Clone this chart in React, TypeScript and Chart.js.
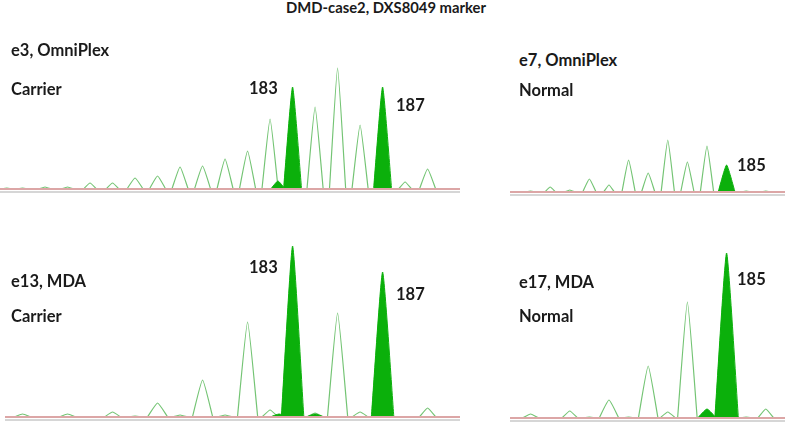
import React, { useEffect, useRef } from "react";
import { Chart, registerables } from "chart.js";

Chart.register(...registerables);

// ---------- DATA ----------
const title = "DMD-case2, DXS8049 marker";

// Panel e3, OmniPlex (Carrier) — fragment size (bp) and peak height
const e3Sizes = [170.3, 171.0, 172.0, 173.0, 174.0, 175.0, 176.0, 177.0, 178.0, 179.0, 180.0, 181.0, 182.0, 184.0, 185.0, 186.0, 188.0, 189.0];
const e3Heights = [1, 1, 2, 2, 6, 6, 11, 13, 22, 23, 30, 38, 70, 82, 121, 64, 7, 20];
const e3AlleleSizes = [182.35, 183.0, 187.0];
const e3AlleleHeights = [8, 102, 102];

// Panel e7, OmniPlex (Normal)
const e7Sizes = [175.0, 176.0, 177.0, 178.0, 179.0, 180.0, 181.0, 182.0, 183.0, 184.0, 186.0, 187.0];
const e7Heights = [1, 5, 2, 13, 7, 32, 19, 52, 30, 46, 1, 1];
const e7AlleleSizes = [185.0];
const e7AlleleHeights = [27];

// Panel e13, MDA (Carrier)
const e13Sizes = [171.0, 173.0, 175.0, 176.0, 177.0, 178.0, 179.0, 180.0, 181.0, 182.0, 184.0, 185.0, 186.0, 189.0];
const e13Heights = [3, 3, 5, 1, 14, 2, 37, 2, 95, 7, 4, 104, 5, 9];
const e13AlleleSizes = [182.4, 183.0, 184.0, 187.0];
const e13AlleleHeights = [3, 171, 3, 145];

// Panel e17, MDA (Normal)
const e17Sizes = [175.0, 177.0, 178.0, 179.0, 180.0, 181.0, 182.0, 183.0, 186.0, 187.0];
const e17Heights = [4, 7, 1, 18, 1, 52, 6, 116, 1, 9];
const e17AlleleSizes = [184.0, 185.0];
const e17AlleleHeights = [9, 165];

// ---------- STYLE ----------
const OUTLINE = "#74c474";
const FILL = "#0bb00b";
const BASE_PINK = "#dca6a6";
const BASE_GRAY = "#c9c9c9";
const FONT = "Lato, 'Liberation Sans', sans-serif";

type PanelProps = {
  left: number; top: number; width: number; height: number;
  xMin: number; xMax: number; yMax: number; yMin: number;
  halfW: number; halfWAllele: number;
  sizes: number[]; heights: number[];
  alleleSizes: number[]; alleleHeights: number[];
};

function peakPoints(sizes: number[], heights: number[], hw: number) {
  const pts: any[] = [];
  sizes.forEach((s, i) => {
    const w = heights[i] < 10 ? hw * 0.8 : hw;
    pts.push({ x: s - w, y: 0 });
    pts.push({ x: s, y: heights[i] });
    pts.push({ x: s + w, y: 0 });
    pts.push({ x: s + w, y: null });
  });
  return pts;
}

function Panel(p: PanelProps) {
  const ref = useRef<HTMLCanvasElement>(null);
  useEffect(() => {
    if (!ref.current) return;
    const chart = new Chart(ref.current, {
      type: "line",
      data: {
        datasets: [
          {
            data: [{ x: p.xMin, y: 0 }, { x: p.xMax, y: 0 }],
            borderColor: BASE_PINK, borderWidth: 2, pointRadius: 0, fill: false, order: 0,
          },
          {
            data: [{ x: p.xMin, y: -3 }, { x: p.xMax, y: -3 }],
            borderColor: BASE_GRAY, borderWidth: 1.5, pointRadius: 0, fill: false, order: 0,
          },
          {
            data: peakPoints(p.alleleSizes, p.alleleHeights, p.halfWAllele),
            borderColor: FILL, backgroundColor: FILL, borderWidth: 1, pointRadius: 0,
            fill: "origin", spanGaps: false, order: 1,
          },
          {
            data: peakPoints(p.sizes, p.heights, p.halfW),
            borderColor: OUTLINE, borderWidth: 1.2, pointRadius: 0, fill: false,
            spanGaps: false, order: 2,
          },
        ],
      },
      options: {
        animation: false,
        responsive: false,
        maintainAspectRatio: false,
        layout: { padding: 0 },
        plugins: { legend: { display: false }, tooltip: { enabled: false }, title: { display: false } },
        elements: { line: { tension: 0.15 } },
        scales: {
          x: { type: "linear", min: p.xMin, max: p.xMax, display: false },
          y: { type: "linear", min: p.yMin, max: p.yMax, display: false },
        },
      },
    });
    return () => chart.destroy();
  }, []);
  return (
    <canvas
      ref={ref}
      width={p.width}
      height={p.height}
      style={{ position: "absolute", left: p.left, top: p.top, width: p.width, height: p.height }}
    />
  );
}

function Label({ text, x, cy, size = 16.5, center = false }: { text: string; x: number; cy: number; size?: number; center?: boolean }) {
  return (
    <div
      style={{
        position: "absolute",
        left: center ? x - 200 : x,
        width: center ? 400 : undefined,
        textAlign: center ? "center" : "left",
        top: cy - size * 0.53,
        fontFamily: FONT,
        fontWeight: 700,
        fontSize: size,
        lineHeight: `${size}px`,
        color: "#1a1a1a",
        whiteSpace: "nowrap",
      }}
    >
      {text}
    </div>
  );
}

export default function App() {
  return (
    <div style={{ position: "absolute", left: 0, top: 0, width: 787, height: 426, background: "#fff", overflow: "hidden" }}>
      <Label text={title} x={386} cy={8} size={14.8} center />

      <Panel left={0} top={40} width={460} height={155} xMin={170} xMax={190.44} yMin={-6} yMax={149}
        halfW={0.36} halfWAllele={0.4} sizes={e3Sizes} heights={e3Heights}
        alleleSizes={e3AlleleSizes} alleleHeights={e3AlleleHeights} />
      <Panel left={510} top={100} width={275} height={98} xMin={173.95} xMax={187.98} yMin={-6} yMax={92}
        halfW={0.34} halfWAllele={0.43} sizes={e7Sizes} heights={e7Heights}
        alleleSizes={e7AlleleSizes} alleleHeights={e7AlleleHeights} />
      <Panel left={5} top={230} width={455} height={193} xMin={170.22} xMax={190.44} yMin={-6} yMax={187}
        halfW={0.45} halfWAllele={0.5} sizes={e13Sizes} heights={e13Heights}
        alleleSizes={e13AlleleSizes} alleleHeights={e13AlleleHeights} />
      <Panel left={510} top={235} width={275} height={189} xMin={173.95} xMax={187.98} yMin={-6} yMax={183}
        halfW={0.5} halfWAllele={0.6} sizes={e17Sizes} heights={e17Heights}
        alleleSizes={e17AlleleSizes} alleleHeights={e17AlleleHeights} />

      <Label text="e3, OmniPlex" x={11} cy={50.5} />
      <Label text="Carrier" x={11} cy={89.5} />
      <Label text="183" x={249} cy={88.5} />
      <Label text="187" x={396} cy={106} />

      <Label text="e7, OmniPlex" x={519} cy={61} />
      <Label text="Normal" x={519} cy={91} />
      <Label text="185" x={737} cy={166} />

      <Label text="e13, MDA" x={11} cy={282} />
      <Label text="Carrier" x={11} cy={316.5} />
      <Label text="183" x={249} cy={267.5} />
      <Label text="187" x={396} cy={295} />

      <Label text="e17, MDA" x={519} cy={282.5} />
      <Label text="Normal" x={519} cy={316.5} />
      <Label text="185" x={737} cy={280} />
    </div>
  );
}
